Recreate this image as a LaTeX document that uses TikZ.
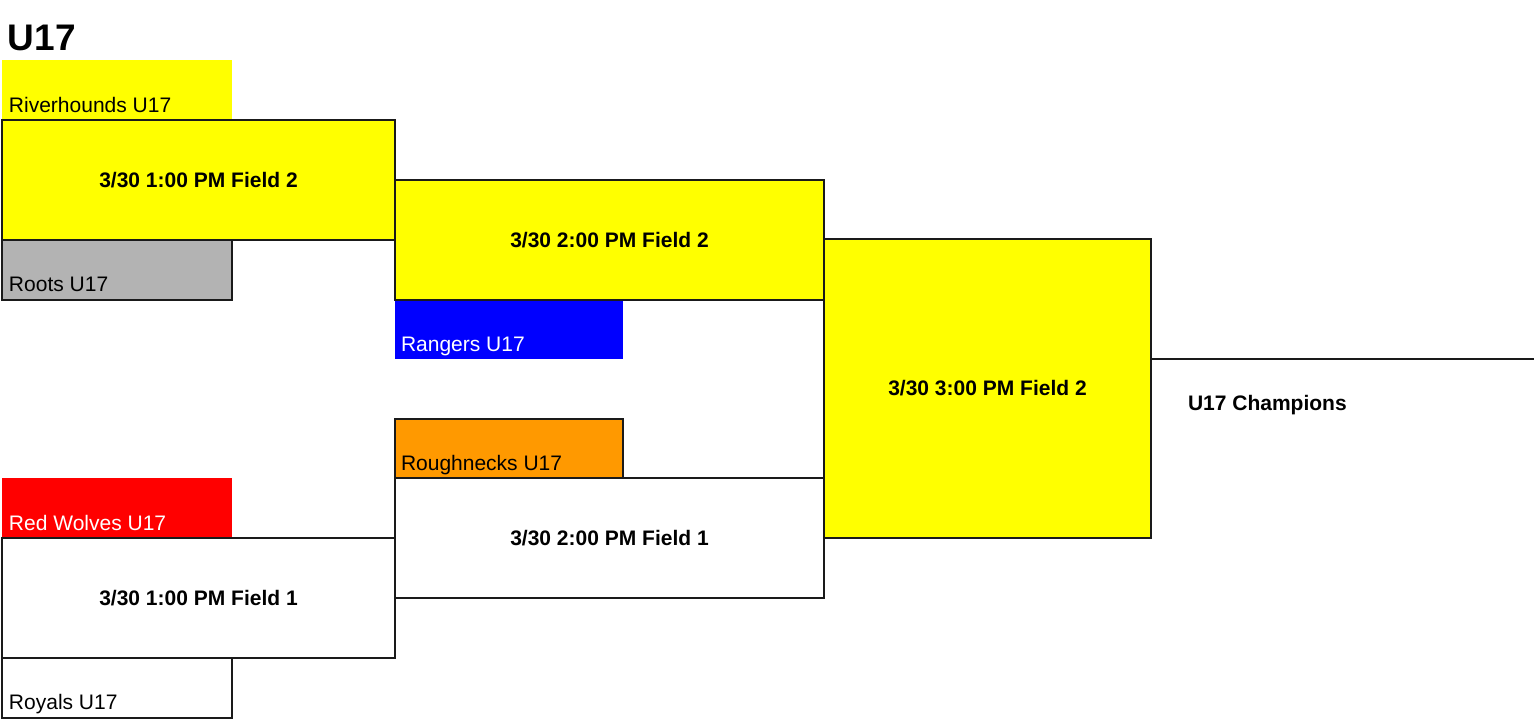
\documentclass[tikz,border=0pt]{standalone}
\usepackage{fontspec}
\setmainfont{Liberation Sans}
\definecolor{bYellow}{HTML}{FFFF00}
\definecolor{bGray}{HTML}{B3B3B3}
\definecolor{bBlue}{HTML}{0000FF}
\definecolor{bOrange}{HTML}{FF9900}
\definecolor{bRed}{HTML}{FF0000}
\definecolor{bLine}{HTML}{1A1A1A}
\begin{document}
\begin{tikzpicture}[x=0.5pt,y=-0.5pt,
  every node/.style={inner sep=0pt, outer sep=0pt},
  teambox/.style={anchor=north west, minimum width=115pt, minimum height=30pt, line width=0.75pt},
  teambox2/.style={teambox, minimum width=114pt},
  gamebox/.style={anchor=north west, draw=bLine, line width=0.75pt, font=\bfseries\fontsize{10.5pt}{12pt}\selectfont},
  r1/.style={gamebox, minimum width=196.5pt, minimum height=60pt},
  r2/.style={gamebox, minimum width=214.5pt, minimum height=60pt},
  fin/.style={gamebox, minimum width=163.5pt, minimum height=149.5pt},
  tname/.style={font=\fontsize{10.5pt}{12pt}\selectfont, anchor=base west}
]
\useasboundingbox (0,0) rectangle (1536,720);

% title
\node[anchor=base west, font=\bfseries\fontsize{18.5pt}{20pt}\selectfont] (title) at (8,50) {U17};

% team boxes
\node[teambox, fill=bYellow] (riv) at (2,60) {};
\node[tname] (rivt) at (9,112) {Riverhounds U17};
\node[teambox, fill=bGray, draw=bLine] (roo) at (2,240) {};
\node[tname] (root) at (9,291) {Roots U17};
\node[teambox2, fill=bBlue] (ran) at (395,299) {};
\node[tname, text=white] (rant) at (401,351) {Rangers U17};
\node[teambox2, fill=bOrange, draw=bLine] (rou) at (395,419) {};
\node[tname] (rout) at (401,470) {Roughnecks U17};
\node[teambox, fill=bRed] (red) at (2,478) {};
\node[tname, text=white] (redt) at (9,530) {Red Wolves U17};
\node[teambox, fill=white, draw=bLine] (roy) at (2,658) {};
\node[tname] (royt) at (9,709) {Royals U17};

% games
\node[r1, fill=bYellow] (g1) at (2,120) {3/30 1:00 PM Field 2};
\node[r1, fill=white] (g2) at (2,538) {3/30 1:00 PM Field 1};
\node[r2, fill=bYellow] (g3) at (395,180) {3/30 2:00 PM Field 2};
\node[r2, fill=white] (g4) at (395,478) {3/30 2:00 PM Field 1};
\node[fin, fill=bYellow] (g5) at (824,239) {3/30 3:00 PM Field 2};

% champion line
\coordinate (champend) at (1534,359);
\draw[bLine, line width=0.75pt] (g5.east |- champend) -- (champend);
\node[anchor=west, font=\bfseries\fontsize{10.5pt}{12pt}\selectfont] (champ) at (1188,405) {U17 Champions};
\end{tikzpicture}
\end{document}
